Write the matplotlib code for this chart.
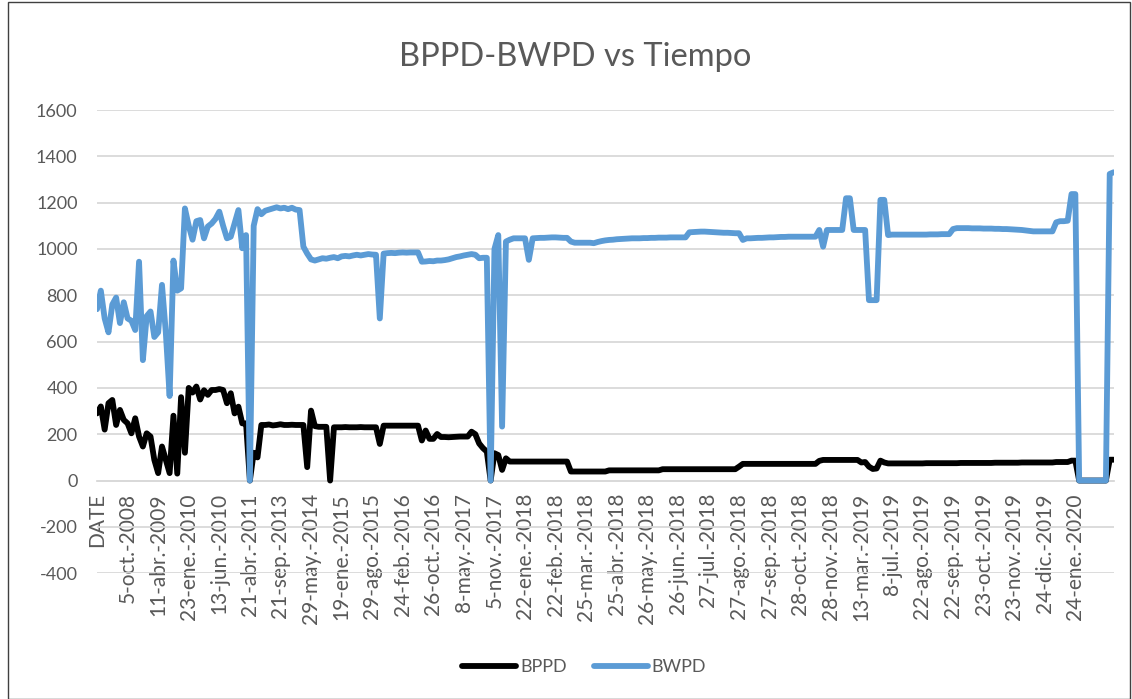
import matplotlib
matplotlib.use("Agg")
import matplotlib.pyplot as plt
from matplotlib.patches import Rectangle

tick_labels = ["DATE", "5-oct.-2008", "11-abr.-2009", "23-ene.-2010", "13-jun.-2010",
               "21-abr.-2011", "21-sep.-2013", "29-may.-2014", "19-ene.-2015",
               "29-ago.-2015", "24-feb.-2016", "26-oct.-2016", "8-may.-2017",
               "5-nov.-2017", "22-ene.-2018", "22-feb.-2018", "25-mar.-2018",
               "25-abr.-2018", "26-may.-2018", "26-jun.-2018", "27-jul.-2018",
               "27-ago.-2018", "27-sep.-2018", "28-oct.-2018", "28-nov.-2018",
               "13-mar.-2019", "8-jul.-2019", "22-ago.-2019", "22-sep.-2019",
               "23-oct.-2019", "23-nov.-2019", "24-dic.-2019", "24-ene.-2020"]
label_step = 8  # one date label every 8 records

bwpd = [
    740, 820, 700, 640, 760, 790, 680, 770, 700, 690,
    650, 945, 520, 710, 730, 620, 640, 845, 640, 365,
    950, 820, 830, 1175, 1100, 1040, 1120, 1125, 1046, 1097,
    1110, 1130, 1161, 1100, 1046, 1053, 1110, 1168, 1003, 1060,
    0, 1100, 1172, 1150, 1165, 1170, 1175, 1180, 1175, 1178,
    1172, 1178, 1170, 1168, 1010, 980, 955, 950, 955, 960,
    958, 962, 965, 960, 968, 970, 968, 972, 975, 972,
    975, 978, 976, 975, 700, 980, 982, 983, 982, 984,
    985, 984, 985, 985, 985, 945, 946, 948, 947, 950,
    950, 952, 955, 960, 965, 968, 972, 975, 978, 975,
    960, 962, 962, 0, 1000, 1060, 233, 1032, 1040, 1046,
    1046, 1046, 1046, 953, 1046, 1047, 1048, 1048, 1049, 1050,
    1050, 1049, 1048, 1048, 1032, 1027, 1027, 1027, 1027, 1027,
    1025, 1030, 1034, 1037, 1039, 1040, 1042, 1043, 1044, 1045,
    1046, 1046, 1046, 1047, 1047, 1048, 1048, 1049, 1049, 1049,
    1050, 1050, 1050, 1050, 1050, 1072, 1073, 1074, 1075, 1075,
    1074, 1073, 1072, 1071, 1070, 1070, 1069, 1068, 1068, 1039,
    1046, 1046, 1047, 1048, 1048, 1049, 1050, 1050, 1051, 1052,
    1052, 1053, 1053, 1053, 1053, 1053, 1053, 1053, 1053, 1082,
    1010, 1082, 1082, 1082, 1082, 1082, 1219, 1219, 1082, 1082,
    1082, 1082, 779, 779, 779, 1212, 1212, 1060, 1062, 1062,
    1062, 1062, 1062, 1062, 1062, 1062, 1062, 1062, 1063, 1063,
    1063, 1064, 1064, 1064, 1086, 1090, 1090, 1090, 1090, 1089,
    1089, 1089, 1088, 1088, 1088, 1087, 1087, 1086, 1086, 1085,
    1084, 1083, 1082, 1080, 1078, 1076, 1076, 1076, 1076, 1076,
    1076, 1115, 1120, 1120, 1122, 1237, 1237, 0, 0, 0,
    0, 0, 0, 0, 0, 1324, 1331,
]

bppd = [
    290, 320, 220, 334, 348, 240, 305, 262, 247, 204,
    269, 190, 147, 204, 190, 89, 32, 147, 89, 32,
    280, 30, 360, 120, 400, 380, 406, 350, 390, 370,
    391, 391, 395, 391, 334, 377, 290, 319, 247, 247,
    0, 120, 100, 240, 240, 242, 238, 240, 243, 240,
    240, 241, 240, 240, 240, 58, 302, 235, 232, 232,
    232, 0, 230, 230, 230, 231, 230, 230, 230, 231,
    230, 230, 230, 230, 158, 237, 237, 237, 237, 237,
    237, 237, 237, 237, 237, 173, 216, 180, 180, 201,
    188, 188, 187, 188, 189, 190, 190, 190, 211, 200,
    160, 140, 125, 0, 118, 110, 46, 96, 82, 82,
    82, 82, 82, 82, 82, 82, 82, 82, 82, 82,
    82, 82, 82, 82, 39, 39, 39, 39, 39, 39,
    39, 39, 39, 39, 44, 44, 44, 44, 44, 44,
    44, 44, 44, 44, 44, 44, 44, 44, 49, 49,
    49, 49, 49, 49, 49, 49, 49, 49, 49, 49,
    49, 49, 49, 49, 49, 49, 49, 49, 60, 72,
    72, 72, 72, 72, 72, 72, 72, 72, 72, 72,
    72, 72, 72, 72, 72, 72, 72, 72, 72, 85,
    89, 89, 89, 89, 89, 89, 89, 89, 89, 89,
    78, 80, 60, 50, 52, 86, 78, 74, 74, 74,
    74, 74, 74, 74, 74, 74, 74, 75, 75, 75,
    75, 75, 75, 75, 75, 75, 76, 76, 76, 76,
    76, 76, 76, 76, 76, 77, 77, 77, 77, 77,
    77, 77, 78, 78, 78, 78, 78, 78, 78, 78,
    78, 80, 80, 80, 80, 86, 86, 0, 0, 0,
    0, 0, 0, 0, 0, 90, 90,
]

series_names = ["BPPD", "BWPD"]
y_ticks = list(range(-400, 1601, 200))

FONT = ["Lato", "DejaVu Sans"]
plt.rcParams["font.family"] = FONT
TXT = "#595959"
GRID = "#d9d9d9"

fig = plt.figure(figsize=(11.32, 6.99), dpi=100)
ax = fig.add_axes([0.0857, 0.180, 0.898, 0.6626])

# axis layout first (moving a spine resets the ticks)
for s in ["top", "right", "left"]:
    ax.spines[s].set_visible(False)
ax.spines["bottom"].set_position(("data", 0))
ax.spines["bottom"].set_color(GRID)
ax.spines["bottom"].set_linewidth(1.3)

x = list(range(len(bwpd)))
ax.plot(x, bppd, color="#000000", lw=4.2, solid_joinstyle="round",
        solid_capstyle="round", label=series_names[0], zorder=3)
ax.plot(x, bwpd, color="#5B9BD5", lw=4.2, solid_joinstyle="round",
        solid_capstyle="round", label=series_names[1], zorder=4)

ax.set_xlim(0, len(bwpd) - 1)
ax.set_ylim(-400, 1600)
ax.set_yticks(y_ticks)
ax.set_yticklabels([str(v) for v in y_ticks], fontsize=13, color=TXT)
ax.yaxis.grid(True, color=GRID, lw=1.3)
ax.set_axisbelow(True)

ax.set_xticks([i * label_step for i in range(len(tick_labels))])
ax.set_xticklabels(tick_labels, fontsize=15, color=TXT)
ax.tick_params(axis="both", length=0)
ax.tick_params(axis="x", pad=9, labelrotation=90)
ax.tick_params(axis="y", pad=14)
for lbl in ax.get_xticklabels():
    lbl.set_ha("center")
    lbl.set_va("top")

fig.text(0.508, 0.918, "BPPD-BWPD vs Tiempo", ha="center", va="center",
         fontsize=23.5, color=TXT)

leg = fig.legend(loc="center", bbox_to_anchor=(0.516, 0.046), ncol=2,
                 frameon=False, fontsize=13, handlelength=3.0,
                 columnspacing=1.5, handletextpad=0.2)
for t in leg.get_texts():
    t.set_color(TXT)

fig.patches.append(Rectangle((8 / 1132, 0.0), (1130 - 8) / 1132, 1.0 - 2 / 699,
                             transform=fig.transFigure, fill=False,
                             edgecolor="#404040", lw=1.0))

fig.savefig("out.png", dpi=100)
